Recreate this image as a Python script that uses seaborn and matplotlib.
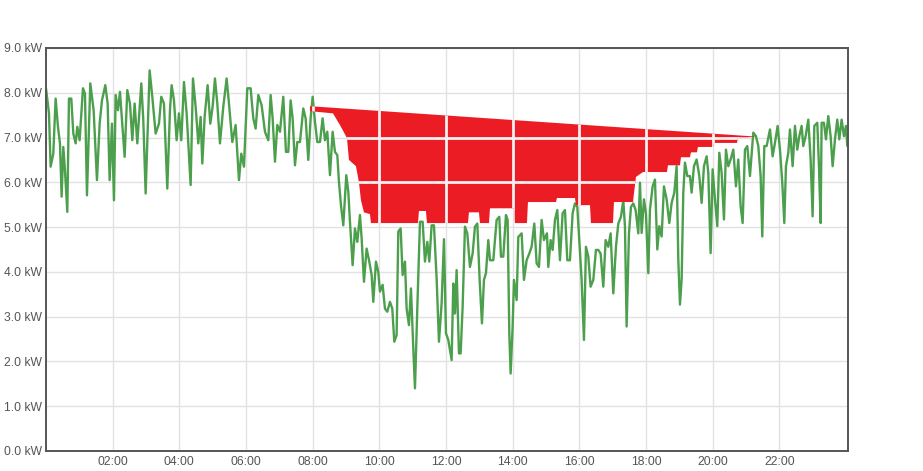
import matplotlib
matplotlib.use("Agg")
import matplotlib.pyplot as plt
import pandas as pd
import seaborn as sns

# load curve, turning points (hour of day, kW)
hours = [
    0.00, 0.09, 0.14, 0.22, 0.29, 0.36, 0.42, 0.47, 0.52, 0.57, 0.64, 0.69, 0.76, 0.82, 0.89, 0.94,
    1.01, 1.11, 1.17, 1.23, 1.33, 1.43, 1.53, 1.61, 1.68, 1.78, 1.85, 1.91, 1.98, 2.04, 2.09, 2.16,
    2.22, 2.29, 2.36, 2.44, 2.52, 2.59, 2.66, 2.74, 2.86, 2.92, 2.99, 3.04, 3.11, 3.19, 3.29, 3.39,
    3.46, 3.54, 3.64, 3.72, 3.77, 3.84, 3.92, 3.99, 4.06, 4.14, 4.22, 4.34, 4.41, 4.49, 4.57, 4.64,
    4.69, 4.76, 4.85, 4.93, 5.00, 5.07, 5.14, 5.22, 5.32, 5.42, 5.49, 5.59, 5.69, 5.79, 5.86, 5.94,
    6.04, 6.14, 6.22, 6.29, 6.37, 6.47, 6.57, 6.67, 6.74, 6.80, 6.87, 6.94, 7.02, 7.12, 7.20, 7.27,
    7.34, 7.40, 7.47, 7.54, 7.62, 7.72, 7.79, 7.87, 7.94, 8.00, 8.07, 8.14, 8.22, 8.30, 8.37, 8.44,
    8.52, 8.60, 8.67, 8.74, 8.79, 8.85, 8.92, 9.01, 9.07, 9.12, 9.20, 9.27, 9.34, 9.42, 9.47, 9.54,
    9.62, 9.70, 9.77, 9.82, 9.90, 9.97, 10.02, 10.10, 10.17, 10.24, 10.32, 10.39, 10.45, 10.52, 10.57, 10.64,
    10.70, 10.77, 10.82, 10.89, 10.95, 11.02, 11.07, 11.14, 11.22, 11.30, 11.37, 11.44, 11.50, 11.57, 11.64, 11.72,
    11.79, 11.87, 11.94, 12.00, 12.07, 12.17, 12.22, 12.27, 12.32, 12.39, 12.44, 12.50, 12.57, 12.64, 12.72, 12.80,
    12.87, 12.94, 13.01, 13.08, 13.14, 13.20, 13.27, 13.32, 13.42, 13.52, 13.60, 13.65, 13.72, 13.80, 13.85, 13.90,
    13.94, 14.00, 14.04, 14.12, 14.17, 14.27, 14.34, 14.42, 14.50, 14.57, 14.65, 14.72, 14.79, 14.87, 14.94, 15.03,
    15.07, 15.14, 15.20, 15.27, 15.34, 15.42, 15.50, 15.57, 15.64, 15.72, 15.80, 15.87, 15.94, 16.00, 16.07, 16.14,
    16.20, 16.27, 16.34, 16.42, 16.50, 16.57, 16.64, 16.72, 16.79, 16.87, 16.94, 17.02, 17.10, 17.17, 17.25, 17.32,
    17.37, 17.42, 17.49, 17.55, 17.62, 17.69, 17.77, 17.82, 17.87, 17.94, 18.00, 18.07, 18.12, 18.20, 18.27, 18.34,
    18.40, 18.47, 18.54, 18.62, 18.70, 18.77, 18.85, 18.92, 18.97, 19.02, 19.07, 19.12, 19.17, 19.24, 19.32, 19.37,
    19.44, 19.52, 19.60, 19.67, 19.74, 19.82, 19.87, 19.94, 20.00, 20.07, 20.14, 20.20, 20.27, 20.34, 20.40, 20.47,
    20.54, 20.62, 20.70, 20.77, 20.84, 20.90, 20.97, 21.04, 21.12, 21.22, 21.30, 21.37, 21.44, 21.49, 21.55, 21.62,
    21.72, 21.80, 21.87, 21.95, 22.02, 22.09, 22.15, 22.20, 22.27, 22.32, 22.40, 22.47, 22.54, 22.60, 22.67, 22.72,
    22.79, 22.87, 22.94, 23.00, 23.05, 23.14, 23.19, 23.24, 23.27, 23.34, 23.40, 23.47, 23.54, 23.60, 23.67, 23.74,
    23.80, 23.87, 23.94, 24.00, 24.04,
]
load_kw = [
    8.10, 7.54, 6.35, 6.64, 7.87, 7.24, 6.87, 5.68, 6.79, 6.27, 5.34, 7.87, 7.87, 7.09, 6.87, 7.24,
    6.94, 8.10, 7.98, 5.71, 8.21, 7.61, 6.05, 7.31, 7.83, 8.17, 7.76, 6.05, 7.31, 5.60, 7.95, 7.61,
    8.02, 7.31, 6.57, 8.06, 7.76, 6.94, 7.76, 6.87, 8.21, 7.39, 5.75, 6.87, 8.50, 7.91, 7.09, 7.31,
    7.91, 7.76, 5.86, 7.61, 8.17, 7.83, 6.94, 7.54, 6.94, 8.24, 7.54, 5.94, 8.32, 7.69, 6.87, 7.46,
    6.42, 7.46, 8.17, 7.31, 7.69, 8.32, 7.76, 6.87, 7.69, 8.32, 7.76, 6.90, 7.28, 6.05, 6.64, 6.35,
    8.10, 8.10, 7.43, 7.20, 7.95, 7.72, 7.13, 6.94, 7.95, 7.43, 6.46, 7.28, 7.13, 7.91, 6.68, 6.68,
    7.83, 7.43, 6.38, 6.90, 6.90, 7.65, 7.43, 6.50, 7.43, 7.91, 7.35, 6.90, 6.90, 7.43, 6.94, 7.13,
    6.16, 7.13, 6.68, 6.61, 6.01, 5.49, 5.04, 6.16, 5.79, 5.12, 4.15, 4.97, 4.67, 5.27, 4.75, 3.78,
    4.52, 4.23, 3.93, 3.33, 4.23, 4.00, 3.56, 3.71, 3.18, 3.11, 3.33, 3.18, 2.44, 2.59, 4.90, 4.97,
    3.93, 4.23, 3.18, 2.81, 3.63, 2.29, 1.40, 3.18, 5.12, 5.12, 4.23, 4.67, 4.23, 5.04, 5.04, 3.85,
    2.44, 3.30, 4.73, 2.63, 2.48, 2.03, 3.74, 3.07, 4.04, 2.18, 2.18, 3.22, 5.01, 4.86, 4.11, 4.41,
    5.01, 5.08, 3.82, 2.85, 3.82, 3.97, 4.71, 4.26, 4.26, 5.16, 5.23, 4.34, 4.34, 5.27, 5.16, 2.63,
    1.73, 2.78, 3.82, 3.37, 4.78, 4.86, 3.82, 4.26, 4.41, 4.56, 5.08, 4.19, 4.11, 5.16, 4.71, 4.86,
    4.11, 4.71, 4.49, 5.16, 5.38, 4.26, 5.31, 5.38, 4.26, 4.26, 5.31, 5.53, 5.45, 4.71, 3.82, 2.48,
    4.56, 4.34, 3.67, 3.82, 4.49, 4.49, 4.41, 3.67, 4.71, 4.56, 4.86, 3.52, 4.56, 5.08, 5.23, 5.60,
    5.01, 2.78, 4.86, 5.45, 5.53, 5.38, 4.86, 5.99, 4.87, 5.62, 5.30, 3.97, 5.39, 5.91, 6.06, 4.50,
    5.02, 4.79, 5.91, 5.62, 5.09, 5.54, 5.77, 6.36, 4.27, 3.27, 3.83, 5.77, 6.44, 6.14, 6.14, 5.77,
    6.36, 6.51, 6.14, 5.54, 6.36, 6.58, 6.21, 4.42, 6.29, 5.62, 5.02, 6.66, 6.21, 5.17, 6.73, 6.36,
    6.51, 6.73, 5.91, 6.51, 5.47, 5.09, 6.73, 6.81, 6.14, 7.11, 7.03, 6.81, 6.14, 4.79, 6.81, 6.81,
    7.18, 6.58, 6.88, 7.26, 6.73, 5.99, 5.09, 6.36, 6.66, 7.18, 6.36, 7.26, 6.73, 7.03, 7.26, 6.81,
    7.03, 7.40, 6.51, 5.24, 7.26, 7.33, 6.36, 5.09, 7.33, 7.33, 6.96, 7.48, 7.03, 6.36, 6.96, 7.40,
    6.96, 7.40, 7.03, 7.26, 6.81,
]

# red painted area: straight top edge, ragged bottom edge
red_top_hours = [7.92, 21.33]
red_top_kw = [7.70, 7.02]
red_bottom_hours = [
    7.92, 8.61, 8.82, 9.03, 9.09, 9.30, 9.39, 9.45, 9.54, 9.72, 9.75, 11.16, 11.19, 11.40, 11.43,
    12.66, 12.69, 12.99, 13.02, 13.29, 13.32, 14.04, 14.07, 14.43, 14.46, 15.30, 15.33, 15.87,
    15.90, 16.32, 16.35, 17.01, 17.04, 17.61, 17.70, 17.91, 18.63, 18.66, 19.02, 19.05, 19.32,
    19.35, 19.53, 19.56, 20.01, 20.04, 20.73, 20.76, 21.33,
]
red_bottom_kw = [
    7.59, 7.54, 7.28, 6.99, 6.50, 6.36, 6.00, 5.60, 5.33, 5.29, 5.09, 5.09, 5.36, 5.36, 5.09,
    5.09, 5.33, 5.33, 5.09, 5.09, 5.42, 5.42, 5.09, 5.09, 5.56, 5.56, 5.65, 5.65,
    5.49, 5.49, 5.09, 5.09, 5.56, 5.56, 6.12, 6.23, 6.23, 6.38, 6.38, 6.56, 6.56,
    6.67, 6.67, 6.79, 6.79, 6.88, 6.88, 6.99, 7.02,
]

y_ticks = [0, 1, 2, 3, 4, 5, 6, 7, 8, 9]
y_tick_labels = ["%.1f kW" % v for v in y_ticks]
x_ticks = [2, 4, 6, 8, 10, 12, 14, 16, 18, 20, 22]
x_tick_labels = ["%02d:00" % h for h in x_ticks]

sns.set_style("white")
plt.rcParams["font.family"] = ["Liberation Sans", "DejaVu Sans"]

fig = plt.figure(figsize=(9.23, 4.71), dpi=100)
ax = fig.add_axes([0.0498, 0.0425, 0.8689, 0.8556])

df = pd.DataFrame({"hour": hours, "kw": load_kw})
sns.lineplot(data=df, x="hour", y="kw", ax=ax, color="#4c9f4c", linewidth=1.7, zorder=2)

red_x = red_top_hours + red_bottom_hours[::-1]
red_y = red_top_kw + red_bottom_kw[::-1]
red_patch = ax.fill(red_x, red_y, color="#ec1c24", linewidth=0, zorder=3)[0]

ax.set_xlim(0, 24.06)
ax.set_ylim(0, 9)
ax.set_xticks(x_ticks)
ax.set_xticklabels(x_tick_labels)
ax.set_yticks(y_ticks)
ax.set_yticklabels(y_tick_labels)
ax.set_xlabel("")
ax.set_ylabel("")

ax.grid(True, color="#e2e2e2", linewidth=1)
ax.set_axisbelow(True)

# grid stays visible (almost white) through the painted area
for x in x_ticks:
    line = ax.axvline(x, color="#f5f0f0", linewidth=2, zorder=4)
    line.set_clip_path(red_patch)
for y in y_ticks:
    line = ax.axhline(y, color="#f5f0f0", linewidth=2, zorder=4)
    line.set_clip_path(red_patch)

for side in ["left", "bottom", "top", "right"]:
    ax.spines[side].set_visible(True)
    ax.spines[side].set_color("#555555")
    ax.spines[side].set_linewidth(1.4)

ax.tick_params(axis="both", length=0, labelsize=8.7, labelcolor="#555555")
ax.tick_params(axis="y", pad=2.5)
ax.tick_params(axis="x", pad=3.5)

fig.savefig("out.png", dpi=100)
